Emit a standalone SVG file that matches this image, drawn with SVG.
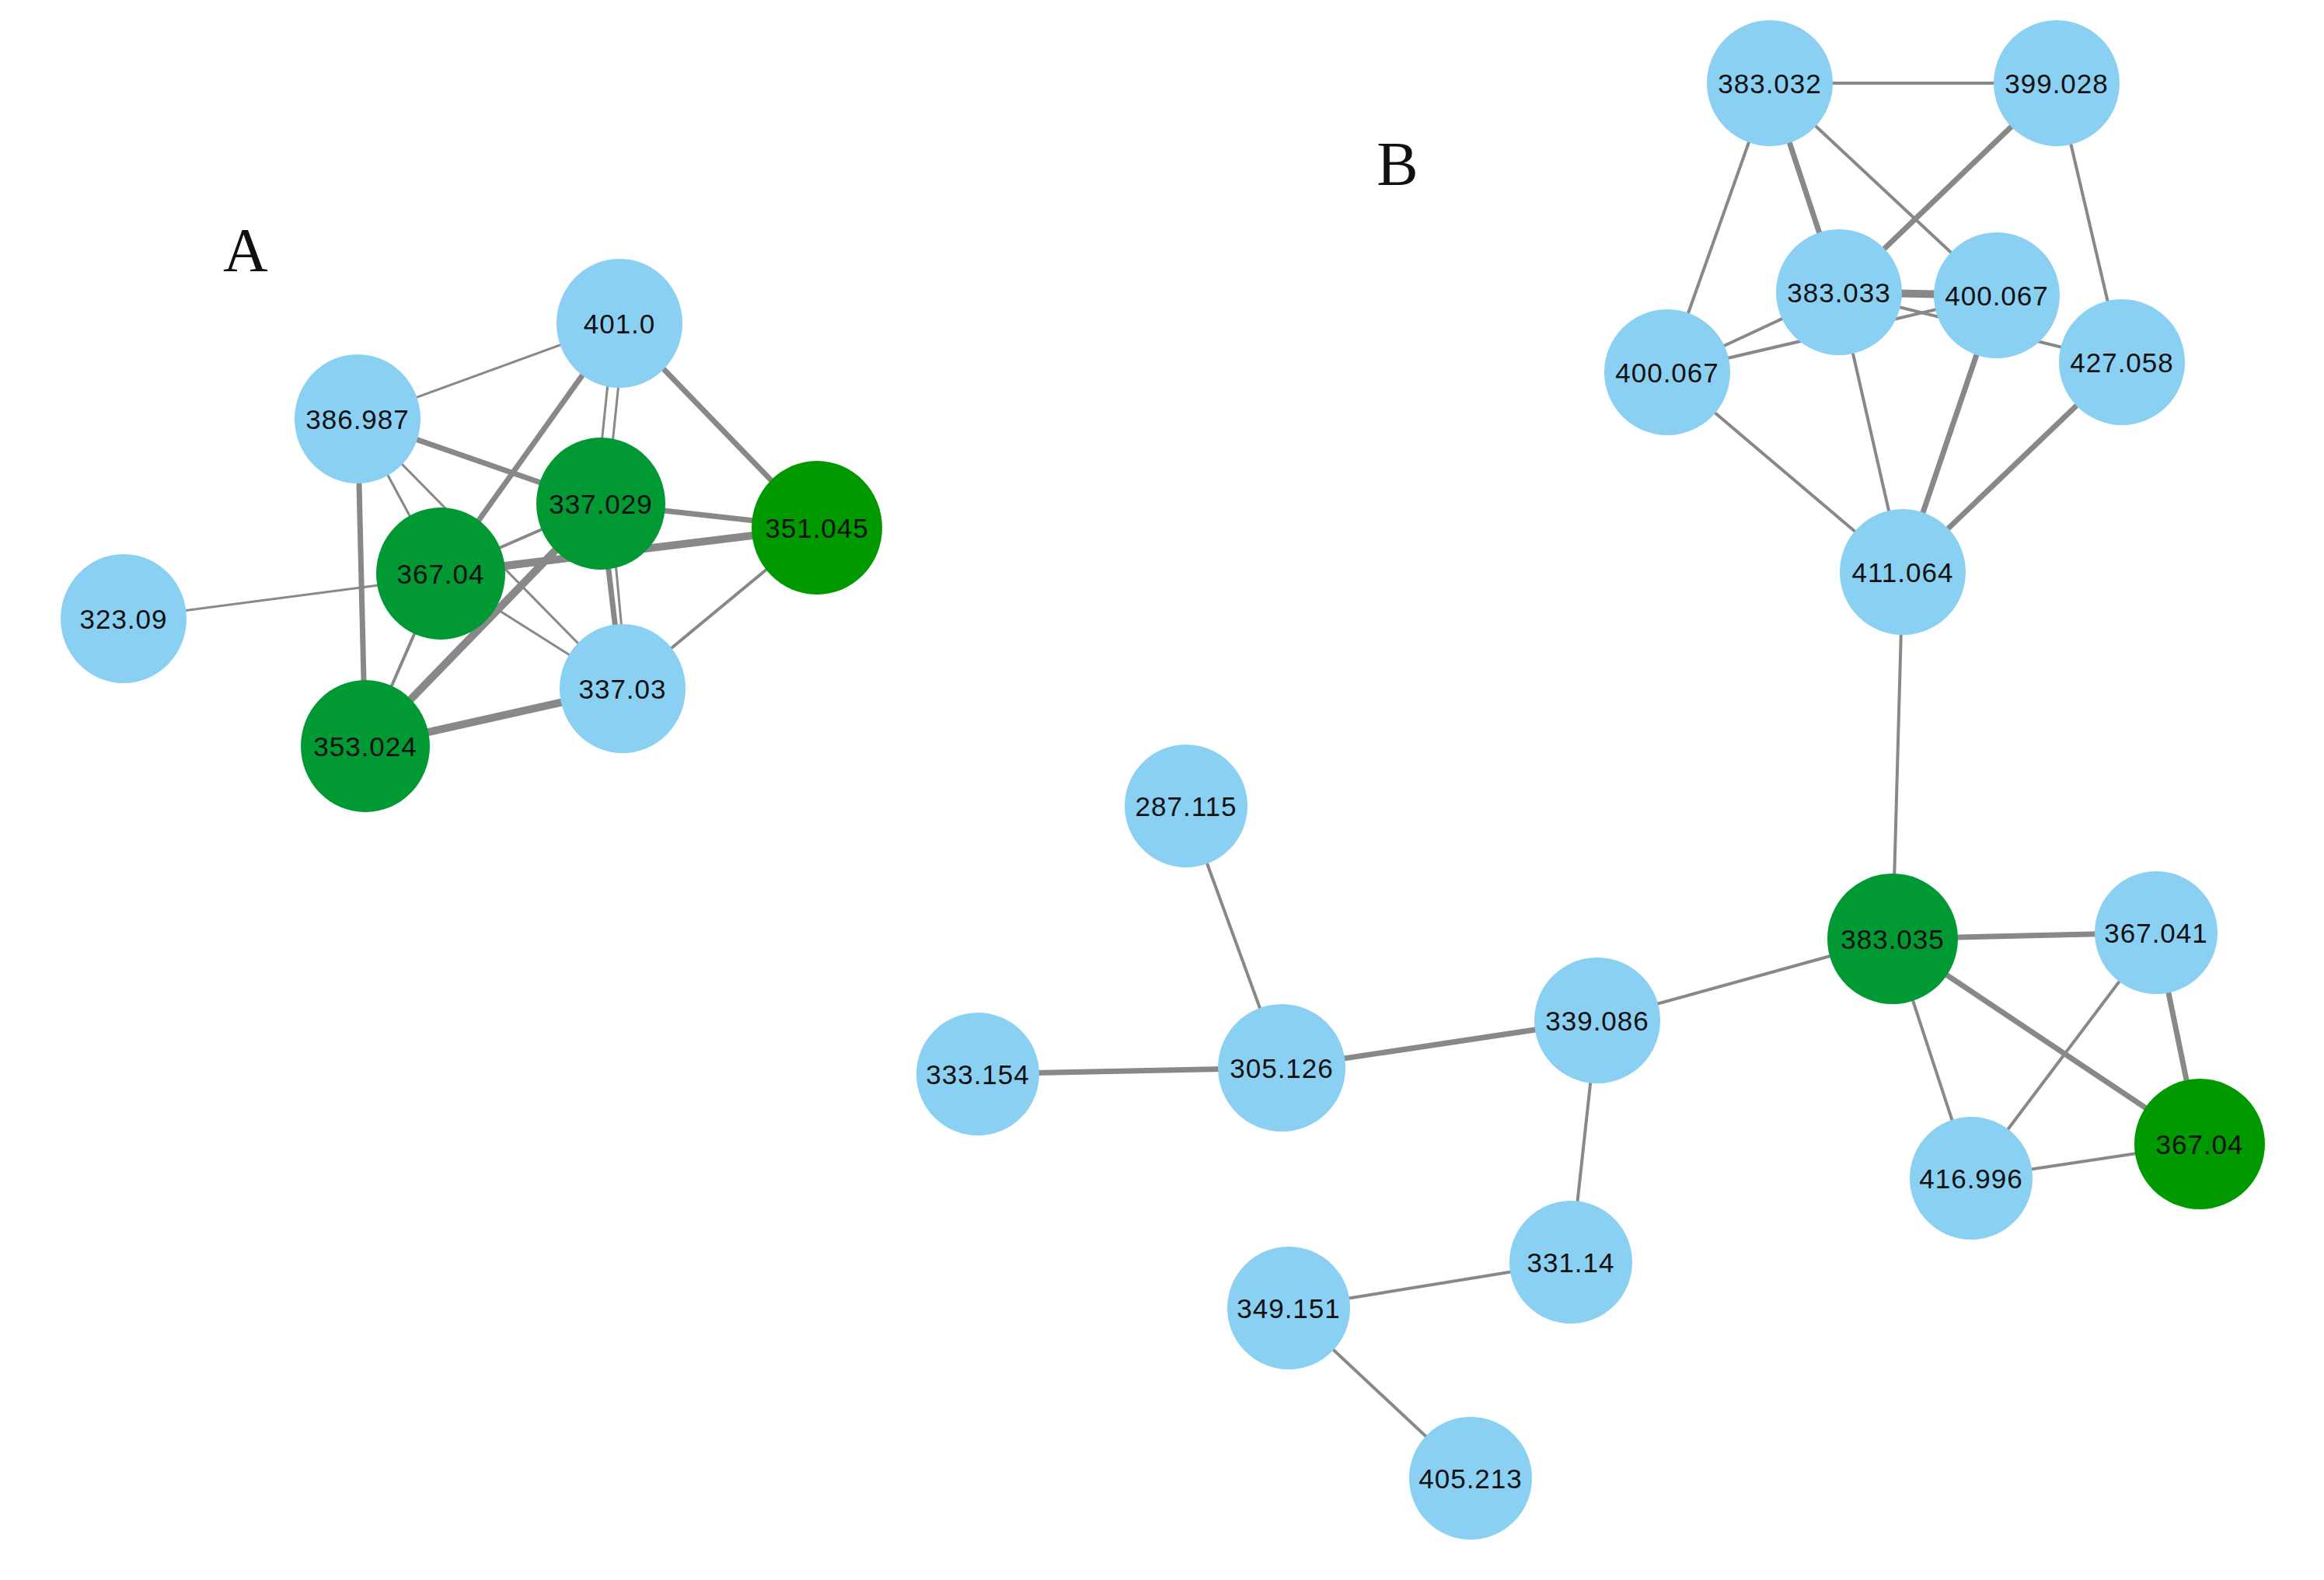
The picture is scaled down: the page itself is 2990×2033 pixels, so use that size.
<svg xmlns="http://www.w3.org/2000/svg" width="2990" height="2033" viewBox="0 0 2990 2033">
<style>
.b{fill:#8ad0f3}.g{fill:#009933}.g2{fill:#009900}
text{font-family:"Liberation Sans",Arial,sans-serif;font-size:35px;fill:#111;text-anchor:middle;dominant-baseline:central;letter-spacing:1px}
.lbl{font-family:"Liberation Serif","Times New Roman",serif;font-size:80px;letter-spacing:0}
#edges line{stroke:#888;stroke-width:4}
#edges .t{stroke-width:7}#edges .tt{stroke-width:10}#edges .n{stroke-width:3}
</style>
<rect width="2990" height="2033" fill="#fff"/>
<text class="lbl" x="316" y="322">A</text>
<text class="lbl" x="1798" y="211">B</text>
<g id="edges">
<line class="n" x1="797" y1="416" x2="460" y2="539"/>
<line class="t" x1="797" y1="416" x2="567" y2="738"/>
<line class="n" x1="790" y1="416" x2="766" y2="648"/>
<line class="n" x1="804" y1="416" x2="780" y2="648"/>
<line class="t" x1="797" y1="416" x2="1051" y2="679"/>
<line class="t" x1="460" y1="539" x2="773" y2="648"/>
<line class="n" x1="460" y1="539" x2="567" y2="738"/>
<line class="n" x1="460" y1="539" x2="801" y2="886"/>
<line class="t" x1="460" y1="539" x2="470" y2="960"/>
<line class="n" x1="159" y1="796" x2="1051" y2="679"/>
<line class="tt" x1="567" y1="738" x2="1051" y2="679"/>
<line class="t" x1="773" y1="648" x2="1051" y2="679"/>
<line class="t" x1="773" y1="648" x2="801" y2="886"/>
<line class="n" x1="785" y1="648" x2="807" y2="886"/>
<line class="n" x1="567" y1="738" x2="801" y2="886"/>
<line x1="567" y1="738" x2="470" y2="960"/>
<line class="tt" x1="773" y1="648" x2="470" y2="960"/>
<line x1="1051" y1="679" x2="801" y2="886"/>
<line class="tt" x1="470" y1="960" x2="801" y2="886"/>
<line x1="567" y1="738" x2="773" y2="648"/>
<line x1="2277" y1="107" x2="2646" y2="107"/>
<line x1="2277" y1="107" x2="2145" y2="479"/>
<line class="t" x1="2277" y1="107" x2="2366" y2="376"/>
<line x1="2277" y1="107" x2="2569" y2="380"/>
<line class="t" x1="2646" y1="107" x2="2366" y2="376"/>
<line x1="2646" y1="107" x2="2730" y2="466"/>
<line class="tt" x1="2366" y1="376" x2="2569" y2="380"/>
<line x1="2145" y1="479" x2="2366" y2="376"/>
<line x1="2145" y1="479" x2="2569" y2="380"/>
<line x1="2366" y1="376" x2="2730" y2="466"/>
<line x1="2145" y1="479" x2="2448" y2="736"/>
<line x1="2366" y1="376" x2="2448" y2="736"/>
<line class="t" x1="2569" y1="380" x2="2448" y2="736"/>
<line class="t" x1="2730" y1="466" x2="2448" y2="736"/>
<line x1="2448" y1="736" x2="2435" y2="1208"/>
<line class="t" x1="2435" y1="1208" x2="2774" y2="1200"/>
<line class="t" x1="2435" y1="1208" x2="2830" y2="1472"/>
<line x1="2435" y1="1208" x2="2536" y2="1516"/>
<line x1="2774" y1="1200" x2="2536" y2="1516"/>
<line class="t" x1="2774" y1="1200" x2="2830" y2="1472"/>
<line x1="2536" y1="1516" x2="2830" y2="1472"/>
<line x1="2435" y1="1208" x2="2055" y2="1313"/>
<line class="t" x1="2055" y1="1313" x2="1649" y2="1374"/>
<line x1="1649" y1="1374" x2="1526" y2="1037"/>
<line class="t" x1="1649" y1="1374" x2="1258" y2="1382"/>
<line x1="2055" y1="1313" x2="2021" y2="1624"/>
<line x1="2021" y1="1624" x2="1658" y2="1683"/>
<line x1="1658" y1="1683" x2="1892" y2="1902"/>
</g>
<g id="a401"><ellipse class="b" cx="797" cy="416" rx="81" ry="83"/><text x="797" y="416">401.0</text></g>
<g id="a386"><ellipse class="b" cx="460" cy="539" rx="81" ry="83"/><text x="460" y="539">386.987</text></g>
<g id="a337029"><ellipse class="g" cx="773" cy="648" rx="83" ry="85"/><text x="773" y="648">337.029</text></g>
<g id="a351"><ellipse class="g2" cx="1051" cy="679" rx="84" ry="86"/><text x="1051" y="679">351.045</text></g>
<g id="a367"><ellipse class="g" cx="567" cy="738" rx="83" ry="85"/><text x="567" y="738">367.04</text></g>
<g id="a323"><ellipse class="b" cx="159" cy="796" rx="81" ry="83"/><text x="159" y="796">323.09</text></g>
<g id="a33703"><ellipse class="b" cx="801" cy="886" rx="81" ry="83"/><text x="801" y="886">337.03</text></g>
<g id="a353"><ellipse class="g" cx="470" cy="960" rx="83" ry="85"/><text x="470" y="960">353.024</text></g>
<g id="b383032"><circle class="b" cx="2277" cy="107" r="81"/><text x="2277" y="107">383.032</text></g>
<g id="b399"><circle class="b" cx="2646" cy="107" r="81"/><text x="2646" y="107">399.028</text></g>
<g id="b383033"><circle class="b" cx="2366" cy="376" r="81"/><text x="2366" y="376">383.033</text></g>
<g id="b400m"><circle class="b" cx="2569" cy="380" r="81"/><text x="2569" y="380">400.067</text></g>
<g id="b400l"><circle class="b" cx="2145" cy="479" r="81"/><text x="2145" y="479">400.067</text></g>
<g id="b427"><circle class="b" cx="2730" cy="466" r="81"/><text x="2730" y="466">427.058</text></g>
<g id="b411"><circle class="b" cx="2448" cy="736" r="81"/><text x="2448" y="736">411.064</text></g>
<g id="b287"><circle class="b" cx="1526" cy="1037" r="79"/><text x="1526" y="1037">287.115</text></g>
<g id="b383035"><circle class="g" cx="2435" cy="1208" r="84"/><text x="2435" y="1208">383.035</text></g>
<g id="b367041"><circle class="b" cx="2774" cy="1200" r="79"/><text x="2774" y="1200">367.041</text></g>
<g id="b339"><circle class="b" cx="2055" cy="1313" r="81"/><text x="2055" y="1313">339.086</text></g>
<g id="b333"><circle class="b" cx="1258" cy="1382" r="79"/><text x="1258" y="1382">333.154</text></g>
<g id="b305"><circle class="b" cx="1649" cy="1374" r="82"/><text x="1649" y="1374">305.126</text></g>
<g id="b367"><circle class="g2" cx="2830" cy="1472" r="84"/><text x="2830" y="1472">367.04</text></g>
<g id="b416"><circle class="b" cx="2536" cy="1516" r="79"/><text x="2536" y="1516">416.996</text></g>
<g id="b331"><circle class="b" cx="2021" cy="1624" r="79"/><text x="2021" y="1624">331.14</text></g>
<g id="b349"><circle class="b" cx="1658" cy="1683" r="79"/><text x="1658" y="1683">349.151</text></g>
<g id="b405"><circle class="b" cx="1892" cy="1902" r="79"/><text x="1892" y="1902">405.213</text></g>
</svg>
